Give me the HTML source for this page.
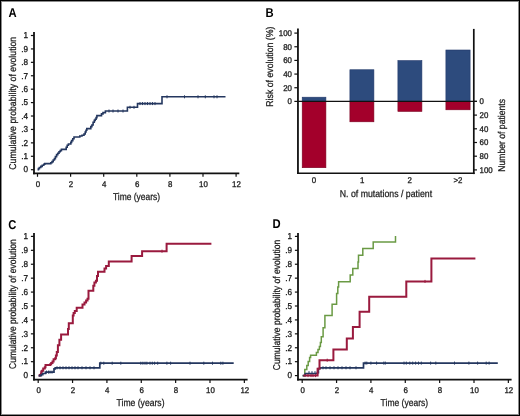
<!DOCTYPE html>
<html><head><meta charset="utf-8"><style>
html,body{margin:0;padding:0;background:#fff;}
#f{position:relative;width:520px;height:416px;overflow:hidden;background:#fff;font-family:"Liberation Sans", sans-serif;}
#b{position:absolute;left:0;top:0;box-sizing:border-box;width:520px;height:416px;border:1px solid #000;box-shadow:inset 0 0 0 1px rgba(0,0,0,0.45);}
</style></head><body><div id="f">
<svg width="520" height="416" viewBox="0 0 520 416" style="position:absolute;left:0;top:0;will-change:transform">
<g font-family='"Liberation Sans", sans-serif' text-rendering="geometricPrecision">
<text x="0" y="0" font-size="12.8" text-anchor="start" fill="#000" transform="translate(8.60 16.70) scale(0.88 1)" font-weight="bold">A</text>
<text x="0" y="0" font-size="12.8" text-anchor="start" fill="#000" transform="translate(265.60 16.60) scale(0.88 1)" font-weight="bold">B</text>
<text x="0" y="0" font-size="12.8" text-anchor="start" fill="#000" transform="translate(8.30 228.60) scale(0.88 1)" font-weight="bold">C</text>
<text x="0" y="0" font-size="12.8" text-anchor="start" fill="#000" transform="translate(272.40 228.00) scale(0.88 1)" font-weight="bold">D</text>
<line x1="34.00" y1="32.00" x2="34.00" y2="174.30" stroke="#111" stroke-width="1.8"/>
<line x1="33.10" y1="173.40" x2="239.30" y2="173.40" stroke="#111" stroke-width="1.6"/>
<line x1="30.90" y1="169.70" x2="34.00" y2="169.70" stroke="#111" stroke-width="1.2"/>
<text x="0" y="0" font-size="8.6" text-anchor="end" fill="#1a1a1a" transform="translate(28.10 172.45) scale(0.95 1)" stroke="#1a1a1a" stroke-width="0.3">0</text>
<line x1="30.90" y1="156.28" x2="34.00" y2="156.28" stroke="#111" stroke-width="1.2"/>
<text x="0" y="0" font-size="8.6" text-anchor="end" fill="#1a1a1a" transform="translate(28.10 159.03) scale(0.95 1)" stroke="#1a1a1a" stroke-width="0.3">.1</text>
<line x1="30.90" y1="142.86" x2="34.00" y2="142.86" stroke="#111" stroke-width="1.2"/>
<text x="0" y="0" font-size="8.6" text-anchor="end" fill="#1a1a1a" transform="translate(28.10 145.61) scale(0.95 1)" stroke="#1a1a1a" stroke-width="0.3">.2</text>
<line x1="30.90" y1="129.44" x2="34.00" y2="129.44" stroke="#111" stroke-width="1.2"/>
<text x="0" y="0" font-size="8.6" text-anchor="end" fill="#1a1a1a" transform="translate(28.10 132.19) scale(0.95 1)" stroke="#1a1a1a" stroke-width="0.3">.3</text>
<line x1="30.90" y1="116.02" x2="34.00" y2="116.02" stroke="#111" stroke-width="1.2"/>
<text x="0" y="0" font-size="8.6" text-anchor="end" fill="#1a1a1a" transform="translate(28.10 118.77) scale(0.95 1)" stroke="#1a1a1a" stroke-width="0.3">.4</text>
<line x1="30.90" y1="102.60" x2="34.00" y2="102.60" stroke="#111" stroke-width="1.2"/>
<text x="0" y="0" font-size="8.6" text-anchor="end" fill="#1a1a1a" transform="translate(28.10 105.35) scale(0.95 1)" stroke="#1a1a1a" stroke-width="0.3">.5</text>
<line x1="30.90" y1="89.18" x2="34.00" y2="89.18" stroke="#111" stroke-width="1.2"/>
<text x="0" y="0" font-size="8.6" text-anchor="end" fill="#1a1a1a" transform="translate(28.10 91.93) scale(0.95 1)" stroke="#1a1a1a" stroke-width="0.3">.6</text>
<line x1="30.90" y1="75.76" x2="34.00" y2="75.76" stroke="#111" stroke-width="1.2"/>
<text x="0" y="0" font-size="8.6" text-anchor="end" fill="#1a1a1a" transform="translate(28.10 78.51) scale(0.95 1)" stroke="#1a1a1a" stroke-width="0.3">.7</text>
<line x1="30.90" y1="62.34" x2="34.00" y2="62.34" stroke="#111" stroke-width="1.2"/>
<text x="0" y="0" font-size="8.6" text-anchor="end" fill="#1a1a1a" transform="translate(28.10 65.09) scale(0.95 1)" stroke="#1a1a1a" stroke-width="0.3">.8</text>
<line x1="30.90" y1="48.92" x2="34.00" y2="48.92" stroke="#111" stroke-width="1.2"/>
<text x="0" y="0" font-size="8.6" text-anchor="end" fill="#1a1a1a" transform="translate(28.10 51.67) scale(0.95 1)" stroke="#1a1a1a" stroke-width="0.3">.9</text>
<line x1="30.90" y1="35.50" x2="34.00" y2="35.50" stroke="#111" stroke-width="1.2"/>
<text x="0" y="0" font-size="8.6" text-anchor="end" fill="#1a1a1a" transform="translate(28.10 38.25) scale(0.95 1)" stroke="#1a1a1a" stroke-width="0.3">1</text>
<line x1="37.50" y1="173.40" x2="37.50" y2="176.80" stroke="#111" stroke-width="1.2"/>
<text x="0" y="0" font-size="8.3" text-anchor="middle" fill="#1a1a1a" transform="translate(37.90 186.50) scale(0.95 1)" stroke="#1a1a1a" stroke-width="0.3">0</text>
<line x1="70.60" y1="173.40" x2="70.60" y2="176.80" stroke="#111" stroke-width="1.2"/>
<text x="0" y="0" font-size="8.3" text-anchor="middle" fill="#1a1a1a" transform="translate(71.00 186.50) scale(0.95 1)" stroke="#1a1a1a" stroke-width="0.3">2</text>
<line x1="103.70" y1="173.40" x2="103.70" y2="176.80" stroke="#111" stroke-width="1.2"/>
<text x="0" y="0" font-size="8.3" text-anchor="middle" fill="#1a1a1a" transform="translate(104.10 186.50) scale(0.95 1)" stroke="#1a1a1a" stroke-width="0.3">4</text>
<line x1="136.80" y1="173.40" x2="136.80" y2="176.80" stroke="#111" stroke-width="1.2"/>
<text x="0" y="0" font-size="8.3" text-anchor="middle" fill="#1a1a1a" transform="translate(137.20 186.50) scale(0.95 1)" stroke="#1a1a1a" stroke-width="0.3">6</text>
<line x1="169.90" y1="173.40" x2="169.90" y2="176.80" stroke="#111" stroke-width="1.2"/>
<text x="0" y="0" font-size="8.3" text-anchor="middle" fill="#1a1a1a" transform="translate(170.30 186.50) scale(0.95 1)" stroke="#1a1a1a" stroke-width="0.3">8</text>
<line x1="203.00" y1="173.40" x2="203.00" y2="176.80" stroke="#111" stroke-width="1.2"/>
<text x="0" y="0" font-size="8.3" text-anchor="middle" fill="#1a1a1a" transform="translate(203.40 186.50) scale(0.95 1)" stroke="#1a1a1a" stroke-width="0.3">10</text>
<line x1="236.10" y1="173.40" x2="236.10" y2="176.80" stroke="#111" stroke-width="1.2"/>
<text x="0" y="0" font-size="8.3" text-anchor="middle" fill="#1a1a1a" transform="translate(236.50 186.50) scale(0.95 1)" stroke="#1a1a1a" stroke-width="0.3">12</text>
<text x="136.55" y="199.80" font-size="9.9" text-anchor="middle" fill="#1a1a1a" textLength="47.3" lengthAdjust="spacingAndGlyphs" stroke="#1a1a1a" stroke-width="0.25">Time (years)</text>
<text x="15.80" y="103.25" font-size="9.9" text-anchor="middle" fill="#1a1a1a" textLength="132.9" lengthAdjust="spacingAndGlyphs" transform="rotate(-90 15.80 103.25)" stroke="#1a1a1a" stroke-width="0.25">Cumulative probability of evolution</text>
<path d="M37.5,169.7 H38.4 V168.6 H39.4 V167.5 H40.8 V166.4 H42.2 V165.2 H43.8 V164.2 H44.8 V163.6 H50.8 V162.8 H52.0 V161.6 H53.2 V160.0 H54.4 V158.6 H55.4 V156.6 H56.6 V154.6 H57.8 V153.2 H59.0 V151.8 H60.2 V150.6 H61.4 V149.4 H66.2 V147.2 H67.2 V145.2 H68.4 V144.0 H70.8 V142.4 H71.6 V140.6 H72.8 V138.8 H74.0 V137.0 H79.8 V136.0 H82.0 V135.2 H84.0 V134.0 H85.2 V132.0 H86.0 V130.2 H86.8 V128.6 H90.8 V126.6 H91.9 V125 H93.1 V122.2 H94.3 V120.4 H95.2 V119.2 H96.1 V117.6 H96.9 V115.6 H101.5 V113.9 H103 V112.6 H105.4 V111.0 H127.4 V107.3 H137.5 V103.6 H162.0 V96.8 H225.5" fill="none" stroke="#24375f" stroke-width="1.6" stroke-linejoin="miter"/>
<line x1="109" y1="109.5" x2="109" y2="112.5" stroke="#24375f" stroke-width="1.0"/>
<line x1="113" y1="109.5" x2="113" y2="112.5" stroke="#24375f" stroke-width="1.0"/>
<line x1="118" y1="109.5" x2="118" y2="112.5" stroke="#24375f" stroke-width="1.0"/>
<line x1="123" y1="109.5" x2="123" y2="112.5" stroke="#24375f" stroke-width="1.0"/>
<line x1="130" y1="105.8" x2="130" y2="108.8" stroke="#24375f" stroke-width="1.0"/>
<line x1="134" y1="105.8" x2="134" y2="108.8" stroke="#24375f" stroke-width="1.0"/>
<line x1="140" y1="102.1" x2="140" y2="105.1" stroke="#24375f" stroke-width="1.0"/>
<line x1="142.5" y1="102.1" x2="142.5" y2="105.1" stroke="#24375f" stroke-width="1.0"/>
<line x1="145" y1="102.1" x2="145" y2="105.1" stroke="#24375f" stroke-width="1.0"/>
<line x1="147.5" y1="102.1" x2="147.5" y2="105.1" stroke="#24375f" stroke-width="1.0"/>
<line x1="150" y1="102.1" x2="150" y2="105.1" stroke="#24375f" stroke-width="1.0"/>
<line x1="152.5" y1="102.1" x2="152.5" y2="105.1" stroke="#24375f" stroke-width="1.0"/>
<line x1="155" y1="102.1" x2="155" y2="105.1" stroke="#24375f" stroke-width="1.0"/>
<line x1="167" y1="95.3" x2="167" y2="98.3" stroke="#24375f" stroke-width="1.0"/>
<line x1="184.5" y1="95.3" x2="184.5" y2="98.3" stroke="#24375f" stroke-width="1.0"/>
<line x1="198" y1="95.3" x2="198" y2="98.3" stroke="#24375f" stroke-width="1.0"/>
<line x1="205.3" y1="95.3" x2="205.3" y2="98.3" stroke="#24375f" stroke-width="1.0"/>
<line x1="214" y1="95.3" x2="214" y2="98.3" stroke="#24375f" stroke-width="1.0"/>
<line x1="217" y1="95.3" x2="217" y2="98.3" stroke="#24375f" stroke-width="1.0"/>
<line x1="297.95" y1="28.40" x2="297.95" y2="174.10" stroke="#111" stroke-width="1.8"/>
<line x1="473.80" y1="28.90" x2="473.80" y2="174.10" stroke="#111" stroke-width="1.7"/>
<line x1="297.05" y1="173.30" x2="474.65" y2="173.30" stroke="#111" stroke-width="1.6"/>
<rect x="302.2" y="97.2" width="23.70" height="4.20" fill="#2d4b7d" stroke="#22386a" stroke-width="0.6"/>
<rect x="302.2" y="101.4" width="23.70" height="66.30" fill="#a3002b" stroke="#7a0020" stroke-width="0.6"/>
<rect x="349.9" y="69.75" width="24.00" height="31.65" fill="#2d4b7d" stroke="#22386a" stroke-width="0.6"/>
<rect x="349.9" y="101.4" width="24.00" height="20.40" fill="#a3002b" stroke="#7a0020" stroke-width="0.6"/>
<rect x="397.9" y="60.6" width="24.00" height="40.80" fill="#2d4b7d" stroke="#22386a" stroke-width="0.6"/>
<rect x="397.9" y="101.4" width="24.00" height="10.00" fill="#a3002b" stroke="#7a0020" stroke-width="0.6"/>
<rect x="445.9" y="50.0" width="24.20" height="51.40" fill="#2d4b7d" stroke="#22386a" stroke-width="0.6"/>
<rect x="445.9" y="101.4" width="24.20" height="8.40" fill="#a3002b" stroke="#7a0020" stroke-width="0.6"/>
<line x1="297.95" y1="101.40" x2="477.00" y2="101.40" stroke="#111" stroke-width="1.4"/>
<line x1="294.35" y1="101.40" x2="297.95" y2="101.40" stroke="#111" stroke-width="1.2"/>
<text x="0" y="0" font-size="8.3" text-anchor="end" fill="#1a1a1a" transform="translate(292.00 104.37) scale(0.95 1)" stroke="#1a1a1a" stroke-width="0.3">0</text>
<line x1="294.35" y1="87.74" x2="297.95" y2="87.74" stroke="#111" stroke-width="1.2"/>
<text x="0" y="0" font-size="8.3" text-anchor="end" fill="#1a1a1a" transform="translate(292.00 90.71) scale(0.95 1)" stroke="#1a1a1a" stroke-width="0.3">20</text>
<line x1="294.35" y1="74.08" x2="297.95" y2="74.08" stroke="#111" stroke-width="1.2"/>
<text x="0" y="0" font-size="8.3" text-anchor="end" fill="#1a1a1a" transform="translate(292.00 77.05) scale(0.95 1)" stroke="#1a1a1a" stroke-width="0.3">40</text>
<line x1="294.35" y1="60.42" x2="297.95" y2="60.42" stroke="#111" stroke-width="1.2"/>
<text x="0" y="0" font-size="8.3" text-anchor="end" fill="#1a1a1a" transform="translate(292.00 63.39) scale(0.95 1)" stroke="#1a1a1a" stroke-width="0.3">60</text>
<line x1="294.35" y1="46.76" x2="297.95" y2="46.76" stroke="#111" stroke-width="1.2"/>
<text x="0" y="0" font-size="8.3" text-anchor="end" fill="#1a1a1a" transform="translate(292.00 49.73) scale(0.95 1)" stroke="#1a1a1a" stroke-width="0.3">80</text>
<line x1="294.35" y1="33.10" x2="297.95" y2="33.10" stroke="#111" stroke-width="1.2"/>
<text x="0" y="0" font-size="8.3" text-anchor="end" fill="#1a1a1a" transform="translate(292.00 36.07) scale(0.95 1)" stroke="#1a1a1a" stroke-width="0.3">100</text>
<line x1="473.80" y1="101.40" x2="477.00" y2="101.40" stroke="#111" stroke-width="1.2"/>
<text x="0" y="0" font-size="8.3" text-anchor="start" fill="#1a1a1a" transform="translate(479.50 104.37) scale(0.95 1)" stroke="#1a1a1a" stroke-width="0.3">0</text>
<line x1="473.80" y1="115.10" x2="477.00" y2="115.10" stroke="#111" stroke-width="1.2"/>
<text x="0" y="0" font-size="8.3" text-anchor="start" fill="#1a1a1a" transform="translate(479.50 118.07) scale(0.95 1)" stroke="#1a1a1a" stroke-width="0.3">20</text>
<line x1="473.80" y1="128.80" x2="477.00" y2="128.80" stroke="#111" stroke-width="1.2"/>
<text x="0" y="0" font-size="8.3" text-anchor="start" fill="#1a1a1a" transform="translate(479.50 131.77) scale(0.95 1)" stroke="#1a1a1a" stroke-width="0.3">40</text>
<line x1="473.80" y1="142.50" x2="477.00" y2="142.50" stroke="#111" stroke-width="1.2"/>
<text x="0" y="0" font-size="8.3" text-anchor="start" fill="#1a1a1a" transform="translate(479.50 145.47) scale(0.95 1)" stroke="#1a1a1a" stroke-width="0.3">60</text>
<line x1="473.80" y1="156.20" x2="477.00" y2="156.20" stroke="#111" stroke-width="1.2"/>
<text x="0" y="0" font-size="8.3" text-anchor="start" fill="#1a1a1a" transform="translate(479.50 159.17) scale(0.95 1)" stroke="#1a1a1a" stroke-width="0.3">80</text>
<line x1="473.80" y1="169.90" x2="477.00" y2="169.90" stroke="#111" stroke-width="1.2"/>
<text x="0" y="0" font-size="8.3" text-anchor="start" fill="#1a1a1a" transform="translate(479.50 172.87) scale(0.95 1)" stroke="#1a1a1a" stroke-width="0.3">100</text>
<text x="0" y="0" font-size="8.3" text-anchor="middle" fill="#1a1a1a" transform="translate(314.00 183.00) scale(0.95 1)" stroke="#1a1a1a" stroke-width="0.3">0</text>
<text x="0" y="0" font-size="8.3" text-anchor="middle" fill="#1a1a1a" transform="translate(362.20 183.00) scale(0.95 1)" stroke="#1a1a1a" stroke-width="0.3">1</text>
<text x="0" y="0" font-size="8.3" text-anchor="middle" fill="#1a1a1a" transform="translate(409.80 183.00) scale(0.95 1)" stroke="#1a1a1a" stroke-width="0.3">2</text>
<text x="0" y="0" font-size="8.3" text-anchor="middle" fill="#1a1a1a" transform="translate(458.00 183.00) scale(0.95 1)" stroke="#1a1a1a" stroke-width="0.3">&gt;2</text>
<text x="385.95" y="197.10" font-size="9.9" text-anchor="middle" fill="#1a1a1a" textLength="92.3" lengthAdjust="spacingAndGlyphs" stroke="#1a1a1a" stroke-width="0.25">N. of mutations / patient</text>
<text x="273.00" y="66.65" font-size="9.9" text-anchor="middle" fill="#1a1a1a" textLength="80.1" lengthAdjust="spacingAndGlyphs" transform="rotate(-90 273.00 66.65)" stroke="#1a1a1a" stroke-width="0.25">Risk of evolution (%)</text>
<text x="505.00" y="135.35" font-size="9.9" text-anchor="middle" fill="#1a1a1a" textLength="72.7" lengthAdjust="spacingAndGlyphs" transform="rotate(-90 505.00 135.35)" stroke="#1a1a1a" stroke-width="0.25">Number of patients</text>
<line x1="34.00" y1="232.90" x2="34.00" y2="380.50" stroke="#111" stroke-width="1.8"/>
<line x1="33.10" y1="379.60" x2="247.60" y2="379.60" stroke="#111" stroke-width="1.6"/>
<line x1="30.90" y1="375.60" x2="34.00" y2="375.60" stroke="#111" stroke-width="1.2"/>
<text x="0" y="0" font-size="8.6" text-anchor="end" fill="#1a1a1a" transform="translate(28.10 378.35) scale(0.95 1)" stroke="#1a1a1a" stroke-width="0.3">0</text>
<line x1="30.90" y1="361.68" x2="34.00" y2="361.68" stroke="#111" stroke-width="1.2"/>
<text x="0" y="0" font-size="8.6" text-anchor="end" fill="#1a1a1a" transform="translate(28.10 364.43) scale(0.95 1)" stroke="#1a1a1a" stroke-width="0.3">.1</text>
<line x1="30.90" y1="347.76" x2="34.00" y2="347.76" stroke="#111" stroke-width="1.2"/>
<text x="0" y="0" font-size="8.6" text-anchor="end" fill="#1a1a1a" transform="translate(28.10 350.51) scale(0.95 1)" stroke="#1a1a1a" stroke-width="0.3">.2</text>
<line x1="30.90" y1="333.84" x2="34.00" y2="333.84" stroke="#111" stroke-width="1.2"/>
<text x="0" y="0" font-size="8.6" text-anchor="end" fill="#1a1a1a" transform="translate(28.10 336.59) scale(0.95 1)" stroke="#1a1a1a" stroke-width="0.3">.3</text>
<line x1="30.90" y1="319.92" x2="34.00" y2="319.92" stroke="#111" stroke-width="1.2"/>
<text x="0" y="0" font-size="8.6" text-anchor="end" fill="#1a1a1a" transform="translate(28.10 322.67) scale(0.95 1)" stroke="#1a1a1a" stroke-width="0.3">.4</text>
<line x1="30.90" y1="306.00" x2="34.00" y2="306.00" stroke="#111" stroke-width="1.2"/>
<text x="0" y="0" font-size="8.6" text-anchor="end" fill="#1a1a1a" transform="translate(28.10 308.75) scale(0.95 1)" stroke="#1a1a1a" stroke-width="0.3">.5</text>
<line x1="30.90" y1="292.08" x2="34.00" y2="292.08" stroke="#111" stroke-width="1.2"/>
<text x="0" y="0" font-size="8.6" text-anchor="end" fill="#1a1a1a" transform="translate(28.10 294.83) scale(0.95 1)" stroke="#1a1a1a" stroke-width="0.3">.6</text>
<line x1="30.90" y1="278.16" x2="34.00" y2="278.16" stroke="#111" stroke-width="1.2"/>
<text x="0" y="0" font-size="8.6" text-anchor="end" fill="#1a1a1a" transform="translate(28.10 280.91) scale(0.95 1)" stroke="#1a1a1a" stroke-width="0.3">.7</text>
<line x1="30.90" y1="264.24" x2="34.00" y2="264.24" stroke="#111" stroke-width="1.2"/>
<text x="0" y="0" font-size="8.6" text-anchor="end" fill="#1a1a1a" transform="translate(28.10 266.99) scale(0.95 1)" stroke="#1a1a1a" stroke-width="0.3">.8</text>
<line x1="30.90" y1="250.32" x2="34.00" y2="250.32" stroke="#111" stroke-width="1.2"/>
<text x="0" y="0" font-size="8.6" text-anchor="end" fill="#1a1a1a" transform="translate(28.10 253.07) scale(0.95 1)" stroke="#1a1a1a" stroke-width="0.3">.9</text>
<line x1="30.90" y1="236.40" x2="34.00" y2="236.40" stroke="#111" stroke-width="1.2"/>
<text x="0" y="0" font-size="8.6" text-anchor="end" fill="#1a1a1a" transform="translate(28.10 239.15) scale(0.95 1)" stroke="#1a1a1a" stroke-width="0.3">1</text>
<line x1="38.20" y1="379.60" x2="38.20" y2="383.00" stroke="#111" stroke-width="1.2"/>
<text x="0" y="0" font-size="8.3" text-anchor="middle" fill="#1a1a1a" transform="translate(38.60 392.90) scale(0.95 1)" stroke="#1a1a1a" stroke-width="0.3">0</text>
<line x1="72.56" y1="379.60" x2="72.56" y2="383.00" stroke="#111" stroke-width="1.2"/>
<text x="0" y="0" font-size="8.3" text-anchor="middle" fill="#1a1a1a" transform="translate(72.96 392.90) scale(0.95 1)" stroke="#1a1a1a" stroke-width="0.3">2</text>
<line x1="106.92" y1="379.60" x2="106.92" y2="383.00" stroke="#111" stroke-width="1.2"/>
<text x="0" y="0" font-size="8.3" text-anchor="middle" fill="#1a1a1a" transform="translate(107.32 392.90) scale(0.95 1)" stroke="#1a1a1a" stroke-width="0.3">4</text>
<line x1="141.28" y1="379.60" x2="141.28" y2="383.00" stroke="#111" stroke-width="1.2"/>
<text x="0" y="0" font-size="8.3" text-anchor="middle" fill="#1a1a1a" transform="translate(141.68 392.90) scale(0.95 1)" stroke="#1a1a1a" stroke-width="0.3">6</text>
<line x1="175.64" y1="379.60" x2="175.64" y2="383.00" stroke="#111" stroke-width="1.2"/>
<text x="0" y="0" font-size="8.3" text-anchor="middle" fill="#1a1a1a" transform="translate(176.04 392.90) scale(0.95 1)" stroke="#1a1a1a" stroke-width="0.3">8</text>
<line x1="210.00" y1="379.60" x2="210.00" y2="383.00" stroke="#111" stroke-width="1.2"/>
<text x="0" y="0" font-size="8.3" text-anchor="middle" fill="#1a1a1a" transform="translate(210.40 392.90) scale(0.95 1)" stroke="#1a1a1a" stroke-width="0.3">10</text>
<line x1="244.36" y1="379.60" x2="244.36" y2="383.00" stroke="#111" stroke-width="1.2"/>
<text x="0" y="0" font-size="8.3" text-anchor="middle" fill="#1a1a1a" transform="translate(244.76 392.90) scale(0.95 1)" stroke="#1a1a1a" stroke-width="0.3">12</text>
<text x="140.55" y="406.40" font-size="9.9" text-anchor="middle" fill="#1a1a1a" textLength="47.9" lengthAdjust="spacingAndGlyphs" stroke="#1a1a1a" stroke-width="0.25">Time (years)</text>
<text x="15.80" y="304.10" font-size="9.9" text-anchor="middle" fill="#1a1a1a" textLength="129.8" lengthAdjust="spacingAndGlyphs" transform="rotate(-90 15.80 304.10)" stroke="#1a1a1a" stroke-width="0.25">Cumulative probability of evolution</text>
<path d="M38.6,375.7 H39.8 V375.0 H40.9 V373.8 H41.3 V371.5 H42.1 V370.8 H43.2 V368.5 H44.8 V367.3 H45.5 V365.0 H50.2 V364.2 H51.2 V362.9 H52.5 V361.5 H53.6 V359.2 H55.2 V358.2 H55.9 V355.6 H56.8 V352.0 H57.9 V345.3 H59.4 V339.8 H61.1 V334.5 H68.0 V329.0 H68.8 V323.3 H72.8 V315.4 H73.6 V313.0 H74.8 V311.0 H76.7 V307.7 H82.5 V304.5 H84.5 V302.6 H86.1 V300.6 H87.5 V298.8 H88.5 V290.8 H93.3 V285.8 H94.4 V282.5 H95.9 V280.7 H97.0 V276.0 H98.0 V271.8 H104.5 V268.5 H106.1 V266.0 H108.8 V261.4 H131.6 V256.1 H142.1 V251.2 H166.6 V243.7 H211.4" fill="none" stroke="#9a1a3e" stroke-width="2.0" stroke-linejoin="miter"/>
<path d="M38.6,375.7 H41.3 V374.6 H42.8 V373.5 H45.5 V372.1 H54.0 V368.8 H55.2 V367.8 H99.8 V363.2 H233.7" fill="none" stroke="#24375f" stroke-width="1.7" stroke-linejoin="miter"/>
<line x1="46.5" y1="370.6" x2="46.5" y2="373.6" stroke="#24375f" stroke-width="1.0"/>
<line x1="48.5" y1="370.6" x2="48.5" y2="373.6" stroke="#24375f" stroke-width="1.0"/>
<line x1="50" y1="370.6" x2="50" y2="373.6" stroke="#24375f" stroke-width="1.0"/>
<line x1="52" y1="370.6" x2="52" y2="373.6" stroke="#24375f" stroke-width="1.0"/>
<line x1="57" y1="366.3" x2="57" y2="369.3" stroke="#24375f" stroke-width="1.0"/>
<line x1="60" y1="366.3" x2="60" y2="369.3" stroke="#24375f" stroke-width="1.0"/>
<line x1="63" y1="366.3" x2="63" y2="369.3" stroke="#24375f" stroke-width="1.0"/>
<line x1="66" y1="366.3" x2="66" y2="369.3" stroke="#24375f" stroke-width="1.0"/>
<line x1="69" y1="366.3" x2="69" y2="369.3" stroke="#24375f" stroke-width="1.0"/>
<line x1="72" y1="366.3" x2="72" y2="369.3" stroke="#24375f" stroke-width="1.0"/>
<line x1="75" y1="366.3" x2="75" y2="369.3" stroke="#24375f" stroke-width="1.0"/>
<line x1="78" y1="366.3" x2="78" y2="369.3" stroke="#24375f" stroke-width="1.0"/>
<line x1="82" y1="366.3" x2="82" y2="369.3" stroke="#24375f" stroke-width="1.0"/>
<line x1="86" y1="366.3" x2="86" y2="369.3" stroke="#24375f" stroke-width="1.0"/>
<line x1="90" y1="366.3" x2="90" y2="369.3" stroke="#24375f" stroke-width="1.0"/>
<line x1="94" y1="366.3" x2="94" y2="369.3" stroke="#24375f" stroke-width="1.0"/>
<line x1="100.8" y1="361.7" x2="100.8" y2="364.7" stroke="#24375f" stroke-width="1.0"/>
<line x1="103.8" y1="361.7" x2="103.8" y2="364.7" stroke="#24375f" stroke-width="1.0"/>
<line x1="112.2" y1="361.7" x2="112.2" y2="364.7" stroke="#24375f" stroke-width="1.0"/>
<line x1="120.8" y1="361.7" x2="120.8" y2="364.7" stroke="#24375f" stroke-width="1.0"/>
<line x1="140.8" y1="361.7" x2="140.8" y2="364.7" stroke="#24375f" stroke-width="1.0"/>
<line x1="142.9" y1="361.7" x2="142.9" y2="364.7" stroke="#24375f" stroke-width="1.0"/>
<line x1="145" y1="361.7" x2="145" y2="364.7" stroke="#24375f" stroke-width="1.0"/>
<line x1="146.9" y1="361.7" x2="146.9" y2="364.7" stroke="#24375f" stroke-width="1.0"/>
<line x1="150" y1="361.7" x2="150" y2="364.7" stroke="#24375f" stroke-width="1.0"/>
<line x1="152.3" y1="361.7" x2="152.3" y2="364.7" stroke="#24375f" stroke-width="1.0"/>
<line x1="154.6" y1="361.7" x2="154.6" y2="364.7" stroke="#24375f" stroke-width="1.0"/>
<line x1="157.7" y1="361.7" x2="157.7" y2="364.7" stroke="#24375f" stroke-width="1.0"/>
<line x1="166.9" y1="361.7" x2="166.9" y2="364.7" stroke="#24375f" stroke-width="1.0"/>
<line x1="170.6" y1="361.7" x2="170.6" y2="364.7" stroke="#24375f" stroke-width="1.0"/>
<line x1="190" y1="361.7" x2="190" y2="364.7" stroke="#24375f" stroke-width="1.0"/>
<line x1="203.8" y1="361.7" x2="203.8" y2="364.7" stroke="#24375f" stroke-width="1.0"/>
<line x1="212.5" y1="361.7" x2="212.5" y2="364.7" stroke="#24375f" stroke-width="1.0"/>
<line x1="220.8" y1="361.7" x2="220.8" y2="364.7" stroke="#24375f" stroke-width="1.0"/>
<line x1="222.9" y1="361.7" x2="222.9" y2="364.7" stroke="#24375f" stroke-width="1.0"/>
<line x1="162" y1="249.7" x2="162" y2="252.7" stroke="#9a1a3e" stroke-width="1.0"/>
<line x1="298.00" y1="232.90" x2="298.00" y2="380.50" stroke="#111" stroke-width="1.8"/>
<line x1="297.10" y1="379.60" x2="511.60" y2="379.60" stroke="#111" stroke-width="1.6"/>
<line x1="294.90" y1="375.60" x2="298.00" y2="375.60" stroke="#111" stroke-width="1.2"/>
<text x="0" y="0" font-size="8.6" text-anchor="end" fill="#1a1a1a" transform="translate(292.10 378.35) scale(0.95 1)" stroke="#1a1a1a" stroke-width="0.3">0</text>
<line x1="294.90" y1="361.68" x2="298.00" y2="361.68" stroke="#111" stroke-width="1.2"/>
<text x="0" y="0" font-size="8.6" text-anchor="end" fill="#1a1a1a" transform="translate(292.10 364.43) scale(0.95 1)" stroke="#1a1a1a" stroke-width="0.3">.1</text>
<line x1="294.90" y1="347.76" x2="298.00" y2="347.76" stroke="#111" stroke-width="1.2"/>
<text x="0" y="0" font-size="8.6" text-anchor="end" fill="#1a1a1a" transform="translate(292.10 350.51) scale(0.95 1)" stroke="#1a1a1a" stroke-width="0.3">.2</text>
<line x1="294.90" y1="333.84" x2="298.00" y2="333.84" stroke="#111" stroke-width="1.2"/>
<text x="0" y="0" font-size="8.6" text-anchor="end" fill="#1a1a1a" transform="translate(292.10 336.59) scale(0.95 1)" stroke="#1a1a1a" stroke-width="0.3">.3</text>
<line x1="294.90" y1="319.92" x2="298.00" y2="319.92" stroke="#111" stroke-width="1.2"/>
<text x="0" y="0" font-size="8.6" text-anchor="end" fill="#1a1a1a" transform="translate(292.10 322.67) scale(0.95 1)" stroke="#1a1a1a" stroke-width="0.3">.4</text>
<line x1="294.90" y1="306.00" x2="298.00" y2="306.00" stroke="#111" stroke-width="1.2"/>
<text x="0" y="0" font-size="8.6" text-anchor="end" fill="#1a1a1a" transform="translate(292.10 308.75) scale(0.95 1)" stroke="#1a1a1a" stroke-width="0.3">.5</text>
<line x1="294.90" y1="292.08" x2="298.00" y2="292.08" stroke="#111" stroke-width="1.2"/>
<text x="0" y="0" font-size="8.6" text-anchor="end" fill="#1a1a1a" transform="translate(292.10 294.83) scale(0.95 1)" stroke="#1a1a1a" stroke-width="0.3">.6</text>
<line x1="294.90" y1="278.16" x2="298.00" y2="278.16" stroke="#111" stroke-width="1.2"/>
<text x="0" y="0" font-size="8.6" text-anchor="end" fill="#1a1a1a" transform="translate(292.10 280.91) scale(0.95 1)" stroke="#1a1a1a" stroke-width="0.3">.7</text>
<line x1="294.90" y1="264.24" x2="298.00" y2="264.24" stroke="#111" stroke-width="1.2"/>
<text x="0" y="0" font-size="8.6" text-anchor="end" fill="#1a1a1a" transform="translate(292.10 266.99) scale(0.95 1)" stroke="#1a1a1a" stroke-width="0.3">.8</text>
<line x1="294.90" y1="250.32" x2="298.00" y2="250.32" stroke="#111" stroke-width="1.2"/>
<text x="0" y="0" font-size="8.6" text-anchor="end" fill="#1a1a1a" transform="translate(292.10 253.07) scale(0.95 1)" stroke="#1a1a1a" stroke-width="0.3">.9</text>
<line x1="294.90" y1="236.40" x2="298.00" y2="236.40" stroke="#111" stroke-width="1.2"/>
<text x="0" y="0" font-size="8.6" text-anchor="end" fill="#1a1a1a" transform="translate(292.10 239.15) scale(0.95 1)" stroke="#1a1a1a" stroke-width="0.3">1</text>
<line x1="302.20" y1="379.60" x2="302.20" y2="383.00" stroke="#111" stroke-width="1.2"/>
<text x="0" y="0" font-size="8.3" text-anchor="middle" fill="#1a1a1a" transform="translate(302.60 392.90) scale(0.95 1)" stroke="#1a1a1a" stroke-width="0.3">0</text>
<line x1="336.56" y1="379.60" x2="336.56" y2="383.00" stroke="#111" stroke-width="1.2"/>
<text x="0" y="0" font-size="8.3" text-anchor="middle" fill="#1a1a1a" transform="translate(336.96 392.90) scale(0.95 1)" stroke="#1a1a1a" stroke-width="0.3">2</text>
<line x1="370.92" y1="379.60" x2="370.92" y2="383.00" stroke="#111" stroke-width="1.2"/>
<text x="0" y="0" font-size="8.3" text-anchor="middle" fill="#1a1a1a" transform="translate(371.32 392.90) scale(0.95 1)" stroke="#1a1a1a" stroke-width="0.3">4</text>
<line x1="405.28" y1="379.60" x2="405.28" y2="383.00" stroke="#111" stroke-width="1.2"/>
<text x="0" y="0" font-size="8.3" text-anchor="middle" fill="#1a1a1a" transform="translate(405.68 392.90) scale(0.95 1)" stroke="#1a1a1a" stroke-width="0.3">6</text>
<line x1="439.64" y1="379.60" x2="439.64" y2="383.00" stroke="#111" stroke-width="1.2"/>
<text x="0" y="0" font-size="8.3" text-anchor="middle" fill="#1a1a1a" transform="translate(440.04 392.90) scale(0.95 1)" stroke="#1a1a1a" stroke-width="0.3">8</text>
<line x1="474.00" y1="379.60" x2="474.00" y2="383.00" stroke="#111" stroke-width="1.2"/>
<text x="0" y="0" font-size="8.3" text-anchor="middle" fill="#1a1a1a" transform="translate(474.40 392.90) scale(0.95 1)" stroke="#1a1a1a" stroke-width="0.3">10</text>
<line x1="508.36" y1="379.60" x2="508.36" y2="383.00" stroke="#111" stroke-width="1.2"/>
<text x="0" y="0" font-size="8.3" text-anchor="middle" fill="#1a1a1a" transform="translate(508.76 392.90) scale(0.95 1)" stroke="#1a1a1a" stroke-width="0.3">12</text>
<text x="404.40" y="406.40" font-size="9.9" text-anchor="middle" fill="#1a1a1a" textLength="47.6" lengthAdjust="spacingAndGlyphs" stroke="#1a1a1a" stroke-width="0.25">Time (years)</text>
<text x="279.70" y="305.00" font-size="9.9" text-anchor="middle" fill="#1a1a1a" textLength="130.6" lengthAdjust="spacingAndGlyphs" transform="rotate(-90 279.70 305.00)" stroke="#1a1a1a" stroke-width="0.25">Cumulative probability of evolution</text>
<path d="M302.6,375.7 H304.8 V369.5 H306.8 V365.5 H308.2 V361.5 H309.6 V357.5 H310.6 V355.2 H316.4 V352.4 H318.0 V349.6 H319.4 V346.4 H320.4 V342.4 H321.3 V336.7 H323.1 V327.7 H324.9 V315.4 H332.1 V304.3 H336.6 V293.4 H337.8 V287.1 H338.6 V281.7 H350.2 V275.1 H352.8 V268.5 H358.0 V261.9 H358.5 V255.2 H362.8 V248.6 H373.2 V242.0 H395.5 V236.0" fill="none" stroke="#6a9a44" stroke-width="1.5" stroke-linejoin="miter"/>
<path d="M302.6,375.7 H305.3 V373.5 H317.4 V372.7 H318.4 V368.5 H320.3 V367.8 H363.5 V363.1 H497.8" fill="none" stroke="#24375f" stroke-width="1.7" stroke-linejoin="miter"/>
<path d="M303.4,375.6 H317.6 V368.8 H319.5 V360.2 H333.4 V349.5 H346.8 V338.6 H352.9 V327.0 H359.6 V311.7 H369.2 V296.8 H406.3 V281.4 H431.4 V258.6 H475.4" fill="none" stroke="#9a1a3e" stroke-width="2.0" stroke-linejoin="miter"/>
<line x1="308" y1="374.1" x2="308" y2="377.1" stroke="#9a1a3e" stroke-width="1.0"/>
<line x1="311" y1="374.1" x2="311" y2="377.1" stroke="#9a1a3e" stroke-width="1.0"/>
<line x1="313" y1="374.1" x2="313" y2="377.1" stroke="#9a1a3e" stroke-width="1.0"/>
<line x1="315.5" y1="374.1" x2="315.5" y2="377.1" stroke="#9a1a3e" stroke-width="1.0"/>
<line x1="327.2" y1="358.7" x2="327.2" y2="361.7" stroke="#9a1a3e" stroke-width="1.0"/>
<line x1="425" y1="279.9" x2="425" y2="282.9" stroke="#9a1a3e" stroke-width="1.0"/>
<line x1="309" y1="371.2" x2="309" y2="374.2" stroke="#24375f" stroke-width="1.0"/>
<line x1="312" y1="371.2" x2="312" y2="374.2" stroke="#24375f" stroke-width="1.0"/>
<line x1="315" y1="371.2" x2="315" y2="374.2" stroke="#24375f" stroke-width="1.0"/>
<line x1="323" y1="366.3" x2="323" y2="369.3" stroke="#24375f" stroke-width="1.0"/>
<line x1="326" y1="366.3" x2="326" y2="369.3" stroke="#24375f" stroke-width="1.0"/>
<line x1="330" y1="366.3" x2="330" y2="369.3" stroke="#24375f" stroke-width="1.0"/>
<line x1="334" y1="366.3" x2="334" y2="369.3" stroke="#24375f" stroke-width="1.0"/>
<line x1="338" y1="366.3" x2="338" y2="369.3" stroke="#24375f" stroke-width="1.0"/>
<line x1="342" y1="366.3" x2="342" y2="369.3" stroke="#24375f" stroke-width="1.0"/>
<line x1="346" y1="366.3" x2="346" y2="369.3" stroke="#24375f" stroke-width="1.0"/>
<line x1="350" y1="366.3" x2="350" y2="369.3" stroke="#24375f" stroke-width="1.0"/>
<line x1="356" y1="366.3" x2="356" y2="369.3" stroke="#24375f" stroke-width="1.0"/>
<line x1="365.1" y1="361.6" x2="365.1" y2="364.6" stroke="#24375f" stroke-width="1.0"/>
<line x1="366.8" y1="361.6" x2="366.8" y2="364.6" stroke="#24375f" stroke-width="1.0"/>
<line x1="370.9" y1="361.6" x2="370.9" y2="364.6" stroke="#24375f" stroke-width="1.0"/>
<line x1="376.6" y1="361.6" x2="376.6" y2="364.6" stroke="#24375f" stroke-width="1.0"/>
<line x1="383.8" y1="361.6" x2="383.8" y2="364.6" stroke="#24375f" stroke-width="1.0"/>
<line x1="385.3" y1="361.6" x2="385.3" y2="364.6" stroke="#24375f" stroke-width="1.0"/>
<line x1="404" y1="361.6" x2="404" y2="364.6" stroke="#24375f" stroke-width="1.0"/>
<line x1="406.3" y1="361.6" x2="406.3" y2="364.6" stroke="#24375f" stroke-width="1.0"/>
<line x1="409.8" y1="361.6" x2="409.8" y2="364.6" stroke="#24375f" stroke-width="1.0"/>
<line x1="412.7" y1="361.6" x2="412.7" y2="364.6" stroke="#24375f" stroke-width="1.0"/>
<line x1="415.6" y1="361.6" x2="415.6" y2="364.6" stroke="#24375f" stroke-width="1.0"/>
<line x1="418.5" y1="361.6" x2="418.5" y2="364.6" stroke="#24375f" stroke-width="1.0"/>
<line x1="421.3" y1="361.6" x2="421.3" y2="364.6" stroke="#24375f" stroke-width="1.0"/>
<line x1="430.6" y1="361.6" x2="430.6" y2="364.6" stroke="#24375f" stroke-width="1.0"/>
<line x1="435.8" y1="361.6" x2="435.8" y2="364.6" stroke="#24375f" stroke-width="1.0"/>
<line x1="454.5" y1="361.6" x2="454.5" y2="364.6" stroke="#24375f" stroke-width="1.0"/>
<line x1="468.9" y1="361.6" x2="468.9" y2="364.6" stroke="#24375f" stroke-width="1.0"/>
<line x1="477.6" y1="361.6" x2="477.6" y2="364.6" stroke="#24375f" stroke-width="1.0"/>
<line x1="486.2" y1="361.6" x2="486.2" y2="364.6" stroke="#24375f" stroke-width="1.0"/>
<line x1="489.1" y1="361.6" x2="489.1" y2="364.6" stroke="#24375f" stroke-width="1.0"/>
</g></svg>
<div id="b"></div>
</div></body></html>
